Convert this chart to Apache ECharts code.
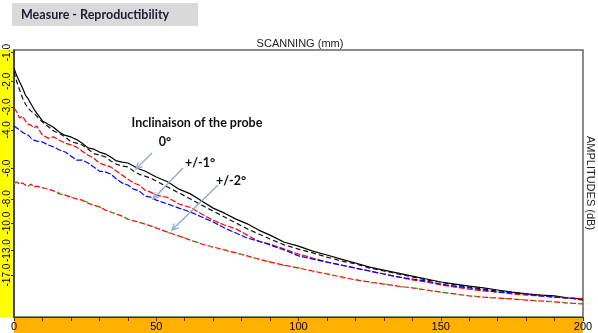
<!DOCTYPE html>
<html>
<head>
<meta charset="utf-8">
<script src="https://cdn.jsdelivr.net/npm/echarts@6/dist/echarts.min.js"></script>
<style>
html,body{margin:0;padding:0;background:#fff;}
#c{width:598px;height:333px;}
</style>
</head>
<body>
<div id="c"></div>
<script>
// Scan position (mm)
const scanMm = [0,1,2,3,4,5,6,7,8,10,12,14,16,18,20,22,24,26,28,30,32,34,36,38,40,42,44,46,48,50,54,58,62,66,70,74,78,82,86,90,95,100,105,110,115,120,125,130,135,140,145,150,155,160,165,170,175,180,185,190,195,200];
// Amplitudes (% of full screen height)
const probe0a = [83.9,81.2,79.2,77.2,74.8,73.5,71.8,70.1,68.7,66.1,65.0,63.9,62.3,61.2,60.7,59.8,58.6,57.0,56.6,55.6,55.0,53.9,52.6,52.2,51.9,50.9,49.9,49.2,48.2,47.2,45.6,43.1,41.5,39.1,36.7,35.0,33.0,31.4,29.3,27.6,25.2,23.9,22.2,20.9,19.5,18.2,16.8,15.8,14.8,13.8,12.8,11.8,11.1,10.4,9.8,9.1,8.4,7.8,7.4,7.1,6.4,6.1];
const probe0b = [82.6,79.2,76.5,73.8,71.8,70.4,69.4,68.7,67.7,65.7,64.2,62.7,61.8,60.7,59.1,58.6,58.0,56.6,55.1,54.6,54.0,52.6,51.5,50.9,50.6,49.2,48.1,47.5,46.8,45.8,43.8,41.8,39.8,37.7,35.7,33.7,31.7,29.7,28.0,26.3,24.3,22.9,21.6,20.2,18.9,17.9,16.5,15.5,14.5,13.5,12.5,11.8,10.8,10.1,9.4,8.8,8.4,7.8,7.4,6.7,6.4,6.1];
const probe1a = [70.4,69.1,67.1,67.7,66.1,65.0,64.7,63.7,64.4,61.3,60.3,60.7,59.6,58.6,58.0,57.3,55.9,54.6,53.6,51.9,51.2,50.6,49.2,47.9,46.5,45.2,44.5,42.8,42.1,41.1,40.3,38.1,36.9,34.7,32.6,31.0,29.7,27.6,25.5,24.6,22.9,21.2,19.9,18.5,17.5,16.5,15.5,14.5,13.5,12.5,11.8,10.8,10.1,9.4,8.8,8.4,7.8,7.4,7.1,6.7,6.4,6.1];
const probe1b = [64.4,63.7,63.0,62.3,61.7,61.3,60.3,59.6,59.3,59.0,58.0,57.3,56.3,55.6,54.3,52.9,52.9,51.9,50.6,49.2,48.9,48.2,46.5,45.2,44.5,43.1,42.5,40.8,40.4,39.4,38.1,36.7,35.4,33.7,32.0,30.0,28.3,26.6,25.6,24.3,22.6,20.6,19.5,18.5,17.5,16.5,15.5,14.5,13.5,12.8,12.1,11.1,10.4,9.8,9.1,8.4,8.1,7.8,7.1,6.7,6.4,5.7];
const probe2a = [45.2,45.5,44.8,45.2,44.5,44.1,44.8,43.8,44.1,43.5,43.1,42.5,41.5,41.1,40.4,39.8,39.4,38.4,37.7,37.1,36.1,35.4,34.7,34.0,33.0,32.4,32.0,31.3,30.7,30.0,28.6,27.3,25.9,24.6,23.6,22.6,21.6,20.6,19.5,18.5,17.5,16.5,15.5,14.5,13.5,12.5,11.8,11.1,10.4,9.8,9.1,8.4,7.8,7.1,6.7,6.4,6.1,5.7,5.4,5.1,4.7,4.4];
const probe2b = [45.0,45.3,45.0,44.9,44.7,44.3,44.5,44.0,43.9,43.7,42.9,42.7,41.8,40.9,40.6,39.6,39.6,38.6,37.5,37.3,35.9,35.6,34.5,34.2,32.8,32.6,31.8,31.5,30.5,30.2,28.4,27.5,25.7,24.8,23.4,22.8,21.4,20.8,19.3,18.7,17.3,16.7,15.3,14.7,13.3,12.7,11.6,11.3,10.2,10.0,8.9,8.6,7.6,7.3,6.5,6.6,5.9,5.9,5.2,5.3,4.5,4.6];
// dB tick labels of the amplitude axis
const dbTicks = [-1,-2,-3,-4,-6,-8,-10,-13,-17];
const xLabelValues = [0,50,100,150,200];

const pct = db => 100 * Math.pow(10, db / 20);
const pairs = arr => scanMm.map((x, i) => [x, arr[i]]);
const tickPos = dbTicks.map(pct);

function arrow(x1, y1, x2, y2) {
  const a = Math.atan2(y2 - y1, x2 - x1), L = 7, s = 0.45;
  const c = { stroke: '#8aa8d8', lineWidth: 1.3 };
  return [
    { type: 'line', shape: { x1, y1, x2, y2 }, style: c, z: 50 },
    { type: 'polyline', shape: { points: [
      [x2 - L * Math.cos(a - s), y2 - L * Math.sin(a - s)], [x2, y2],
      [x2 - L * Math.cos(a + s), y2 - L * Math.sin(a + s)]] }, style: Object.assign({ fill: null }, c), z: 50 }
  ];
}

const chart = echarts.init(document.getElementById('c'), null, { renderer: 'canvas' });
const lineBase = { type: 'line', showSymbol: false, symbol: 'none', animation: false, silent: true };
chart.setOption({
  animation: false,
  grid: { left: 14, right: 15, top: 50, bottom: 16, containLabel: false, outerBoundsMode: 'none',
          show: true, borderColor: '#666', borderWidth: 1.5, backgroundColor: 'transparent' },
  xAxis: {
    type: 'value', min: 0, max: 200, interval: 10,
    axisLine: { show: true, onZero: false, lineStyle: { color: '#333', width: 1 } },
    axisTick: { show: true, length: 4, lineStyle: { color: '#333' } },
    splitLine: { show: false },
    axisLabel: {
      margin: 4, color: '#000', fontFamily: 'Liberation Sans', fontSize: 11, hideOverlap: false,
      formatter: v => xLabelValues.indexOf(v) >= 0 ? String(v) : ''
    }
  },
  yAxis: {
    type: 'value', min: 0, max: 90,
    axisLine: { show: true, lineStyle: { color: '#333', width: 1.5 } },
    axisTick: { show: true, customValues: tickPos, length: 3, lineStyle: { color: '#333' } },
    splitLine: { show: false },
    axisLabel: {
      customValues: tickPos, rotate: 90, margin: 2, color: '#000', hideOverlap: false,
      showMinLabel: true, showMaxLabel: true,
      fontFamily: 'Liberation Sans', fontSize: 10,
      formatter: v => (20 * Math.log10(v / 100)).toFixed(1)
    }
  },
  graphic: [
    { type: 'rect', shape: { x: 0, y: 50, width: 14, height: 267 }, style: { fill: '#ffff00' }, z: -10 },
    { type: 'rect', shape: { x: 14, y: 317, width: 569, height: 16 }, style: { fill: '#ffb000' }, z: -10 },
    { type: 'rect', shape: { x: 12, y: 3, width: 186, height: 23 }, style: { fill: '#d9d9d9' }, z: -10 },
    { type: 'text', x: 21, y: 15, style: { text: 'Measure - Reproductibility', fill: '#1c1c3a',
      font: 'bold 12.5px Lato', verticalAlign: 'middle' } },
    { type: 'text', x: 300, y: 44, style: { text: 'SCANNING (mm)', fill: '#222',
      font: '11px "Liberation Sans"', align: 'center', verticalAlign: 'middle' } },
    { type: 'text', x: 590, y: 183, rotation: -Math.PI / 2, style: { text: 'AMPLITUDES (dB)', fill: '#222',
      font: '11px "Liberation Sans"', align: 'center', verticalAlign: 'middle' } },
    { type: 'text', x: 197, y: 123, z: 60, style: { text: 'Inclinaison of the probe', fill: '#111',
      font: 'bold 12.5px Lato', align: 'center', verticalAlign: 'middle' } },
    { type: 'text', x: 165, y: 142, z: 60, style: { text: '0°', fill: '#111',
      font: 'bold 12.5px Lato', align: 'center', verticalAlign: 'middle' } },
    { type: 'text', x: 200, y: 163, z: 60, style: { text: '+/-1°', fill: '#111',
      font: 'bold 12.5px Lato', align: 'center', verticalAlign: 'middle' } },
    { type: 'text', x: 231, y: 181, z: 60, style: { text: '+/-2°', fill: '#111',
      font: 'bold 12.5px Lato', align: 'center', verticalAlign: 'middle' } },
    ...arrow(152, 153, 136, 169),
    ...arrow(183, 168, 153, 199),
    ...arrow(218, 185, 172, 230)
  ],
  series: [
    Object.assign({}, lineBase, { name: '0° a', data: pairs(probe0a), lineStyle: { color: '#000', width: 1.2 } }),
    Object.assign({}, lineBase, { name: '0° b', data: pairs(probe0b), lineStyle: { color: '#111', width: 1.2, type: [5, 3] } }),
    Object.assign({}, lineBase, { name: '+/-1° a', data: pairs(probe1a), lineStyle: { color: '#ff0000', width: 1.2, type: [6, 2] } }),
    Object.assign({}, lineBase, { name: '+/-1° b', data: pairs(probe1b), lineStyle: { color: '#0000ff', width: 1.2, type: [6, 2] } }),
    Object.assign({}, lineBase, { name: '+/-2° a', data: pairs(probe2a), lineStyle: { color: '#ff0000', width: 1.2, type: [6, 2] } }),
    Object.assign({}, lineBase, { name: '+/-2° b', data: pairs(probe2b), lineStyle: { color: '#22cc22', width: 1.2, type: [3, 12] } })
  ]
});
</script>
</body>
</html>
